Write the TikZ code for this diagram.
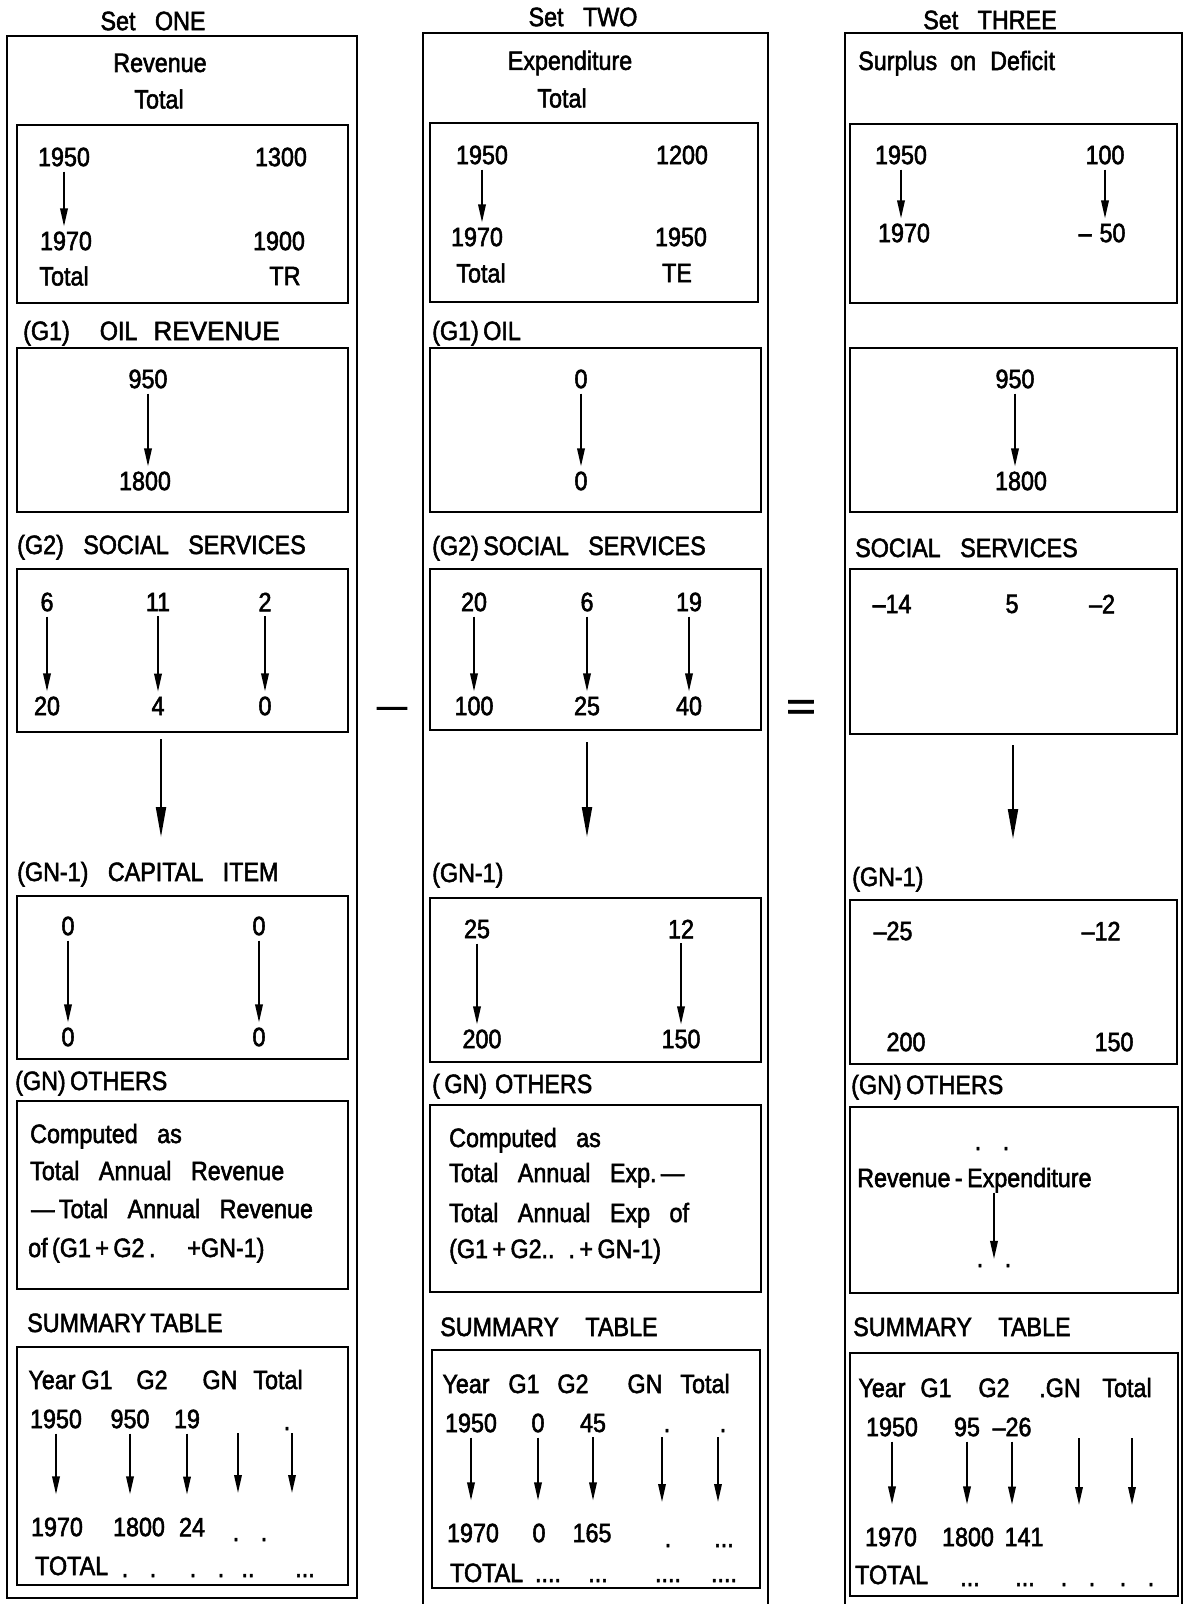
\documentclass[tikz,border=0pt]{standalone}
\usepackage{fontspec}
\setmainfont{Liberation Sans}[FakeStretch=0.88,FakeBold=2,WordSpace=3]
\usetikzlibrary{arrows.meta}

\begin{document}
\begin{tikzpicture}[x=1pt,y=-1pt,font=\fontsize{26.5}{30}\selectfont,
  frame/.style={line width=2.2pt},
  box/.style={line width=2.6pt},
  num/.style={inner sep=5pt},
  lbl/.style={anchor=base west,inner sep=0pt},
  txt/.style={anchor=base,inner sep=0pt},
  arr/.style={line width=1.8pt,-{Triangle[length=18pt,width=7.5pt]}},
  sarr/.style={arr,shorten >=18pt},
  bigarr/.style={line width=2pt,-{Triangle[length=30pt,width=10pt]}}]
\path[use as bounding box] (0,0) rectangle (1186,1604);

% Set ONE : revenue
\draw[frame] (7,36) rectangle (357,1598);
\node (oT) at (153,21) {Set ONE};
\node (oR) at (160,63) {Revenue};
\node (oRt) at (159,99) {Total};
\draw[box] (17,125) rectangle (348,303);
\node[num] (oA1) at (64,157) {1950};
\node[num] (oA2) at (66,241) {1970};
\node[num] (oA3) at (281,157) {1300};
\node[num] (oA4) at (279,241) {1900};
\node[num] (oA5) at (64,276) {Total};
\node[num] (oA6) at (285,276) {TR};
\draw[arr] (oA1.south) -- (oA1.south |- oA2.north);
\node[lbl] (oG1) at (23,340) {(G1)\hspace{30pt}OIL\hspace{16pt}\scalebox{1.12}[1]{REVENUE}};
\draw[box] (17,348) rectangle (348,512);
\node[num] (oB1) at (148,379) {950};
\node[num] (oB2) at (145,481) {1800};
\draw[arr] (oB1.south) -- (oB1.south |- oB2.north);
\node[lbl] (oG2) at (17,554) {(G2) SOCIAL SERVICES};
\draw[box] (17,569) rectangle (348,732);
\foreach \a/\b/\x/\i in {6/20/47/1,11/4/158/2,2/0/265/3} {
  \node[num] (oC\i) at (\x,602) {\a};
  \node[num] (oD\i) at (\x,706) {\b};
  \draw[arr] (oC\i) -- (oD\i);
}
\coordinate (oE1) at (161,739); \coordinate (oE2) at (161,837);
\draw[bigarr] (oE1) -- (oE2);
\node[lbl] (oG3) at (17,881) {(GN-1) CAPITAL ITEM};
\draw[box] (17,896) rectangle (348,1059);
\foreach \x/\i in {68/1,259/2} {
  \node[num] (oF\i) at (\x,926) {0};
  \node[num] (oH\i) at (\x,1037) {0};
  \draw[arr] (oF\i) -- (oH\i);
}
\node[lbl] (oG4) at (15,1090) {(GN)\,OTHERS};
\draw[box] (17,1101) rectangle (348,1289);
\node[lbl] (oK1) at (30,1143) {Computed as};
\node[lbl] (oK2) at (30,1180) {Total Annual Revenue};
\node[lbl] (oK3) at (31,1218) {—\,Total Annual Revenue};
\node[lbl] (oK4) at (28,1257) {of\,(G1\,+\,G2\,.\hspace{32pt}+GN-1)};
\node[lbl] (oG5) at (27,1332) {SUMMARY\,TABLE};
\draw[box] (17,1347) rectangle (348,1585);
\foreach \t/\x/\i in {Year/52/1,G1/97/2,G2/152/3,GN/220/4,Total/278/5}
  \node[txt] (oL\i) at (\x,1389) {\t};
\foreach \a/\b/\x/\y/\i in {1950/1970/56/57/1,950/1800/130/139/2,19/24/187/192/3} {
  \node[num] (oM\i) at (\x,1419) {\a};
  \node[num] (oN\i) at (\y,1527) {\b};
  \draw[sarr] (oM\i) -- (oM\i |- oN\i.north);
}
\foreach \x/\i in {238/4,292/5} {
  \coordinate (oP\i) at (\x,1433); \coordinate (oQ\i) at (\x,1493);
  \draw[arr] (oP\i) -- (oQ\i);
}
\node[txt] (oM5) at (287,1430) {.};
\node[txt] (oN4) at (250,1541) {. .};
\node[lbl] (oS) at (35,1575) {TOTAL};
\foreach \t/\x/\i in {{. .}/139/1,{. .}/207/2,{..}/248/3,{...}/305/4}
  \node[txt] (oU\i) at (\x,1577) {\t};

% minus
\node[txt,font=\fontsize{34}{34}\selectfont] (mi) at (392,717) {—};

% Set TWO : expenditure
\draw[frame] (423,1604) -- (423,33) -- (768,33) -- (768,1604);
\node (tT) at (583,17) {Set TWO};
\node (tR) at (570,63) {Expenditure};
\node (tRt) at (562,98) {Total};
\draw[box] (430,123) rectangle (758,302);
\node[num] (tA1) at (482,155) {1950};
\node[num] (tA2) at (477,237) {1970};
\node[num] (tA3) at (682,155) {1200};
\node[num] (tA4) at (681,237) {1950};
\node[num] (tA5) at (481,273) {Total};
\node[num] (tA6) at (677,273) {TE};
\draw[arr] (tA1.south) -- (tA1.south |- tA2.north);
\node[lbl] (tG1) at (432,340) {(G1)\,OIL};
\draw[box] (430,348) rectangle (761,512);
\node[num] (tB1) at (581,379) {0};
\node[num] (tB2) at (581,481) {0};
\draw[arr] (tB1) -- (tB2);
\node[lbl] (tG2) at (432,555) {(G2)\,SOCIAL SERVICES};
\draw[box] (430,569) rectangle (761,730);
\foreach \a/\b/\x/\i in {20/100/474/1,6/25/587/2,19/40/689/3} {
  \node[num] (tC\i) at (\x,602) {\a};
  \node[num] (tD\i) at (\x,706) {\b};
  \draw[arr] (tC\i) -- (tD\i);
}
\coordinate (tE1) at (587,742); \coordinate (tE2) at (587,837);
\draw[bigarr] (tE1) -- (tE2);
\node[lbl] (tG3) at (432,882) {(GN-1)};
\draw[box] (430,898) rectangle (761,1062);
\foreach \a/\b/\x/\y/\i in {25/200/477/482/1,12/150/681/681/2} {
  \node[num] (tF\i) at (\x,929) {\a};
  \node[num] (tH\i) at (\y,1039) {\b};
  \draw[arr] (tF\i) -- (tF\i |- tH\i.north);
}
\node[lbl] (tG4) at (432,1093) {(\,GN)\hspace{8pt}OTHERS};
\draw[box] (430,1105) rectangle (761,1292);
\node[lbl] (tK1) at (449,1147) {Computed as};
\node[lbl] (tK2) at (449,1182) {Total Annual Exp.\,—};
\node[lbl] (tK3) at (449,1222) {Total Annual Exp of};
\node[lbl] (tK4) at (449,1258) {(G1\,+\,G2..\hspace{14pt}.\,+\,GN-1)};
\node[lbl] (tG5) at (440,1336) {SUMMARY\quad TABLE};
\draw[box] (432,1350) rectangle (760,1588);
\foreach \t/\x/\i in {Year/466/1,G1/524/2,G2/573/3,GN/645/4,Total/705/5}
  \node[txt] (tL\i) at (\x,1393) {\t};
\foreach \a/\b/\x/\y/\i in {1950/1970/471/473/1,0/0/538/539/2,45/165/593/592/3} {
  \node[num] (tM\i) at (\x,1423) {\a};
  \node[num] (tN\i) at (\y,1533) {\b};
  \draw[sarr] (tM\i) -- (tM\i |- tN\i.north);
}
\foreach \x/\i in {662/4,718/5} {
  \coordinate (tP\i) at (\x,1437); \coordinate (tQ\i) at (\x,1502);
  \draw[arr] (tP\i) -- (tQ\i);
}
\node[txt] (tM4) at (667,1432) {.};
\node[txt] (tM5) at (723,1432) {.};
\node[txt] (tN4) at (668,1547) {.};
\node[txt] (tN5) at (724,1547) {...};
\node[lbl] (tS) at (450,1582) {TOTAL};
\foreach \t/\x/\i in {{....}/548/1,{...}/598/2,{....}/668/3,{....}/724/4}
  \node[txt] (tU\i) at (\x,1582) {\t};

% equals
\node[txt,font=\fontsize{40}{40}\selectfont] (eq) at (801,720) {\scalebox{1.45}[1]{=}};

% Set THREE : surplus or deficit
\draw[frame] (845,1604) -- (845,33) -- (1182,33) -- (1182,1604);
\node (hT) at (990,20) {Set THREE};
\node[lbl] (hR) at (858,70) {Surplus\hspace{13pt}on\hspace{14pt}Deficit};
\draw[box] (850,124) rectangle (1177,303);
\node[num] (hA1) at (901,155) {1950};
\node[num] (hA2) at (904,233) {1970};
\node[num] (hA3) at (1105,155) {100};
\node[num] (hA4) at (1102,233) {–\hspace{8pt}50};
\draw[arr] (hA1.south) -- (hA1.south |- hA2.north);
\draw[arr] (hA3.south) -- (hA3.south |- hA4.north);
\draw[box] (850,348) rectangle (1177,512);
\node[num] (hB1) at (1015,379) {950};
\node[num] (hB2) at (1021,481) {1800};
\draw[arr] (hB1.south) -- (hB1.south |- hB2.north);
\node[lbl] (hG2) at (855,557) {SOCIAL SERVICES};
\draw[box] (850,569) rectangle (1177,734);
\node[num] (hC1) at (892,604) {–14};
\node[num] (hC2) at (1012,604) {5};
\node[num] (hC3) at (1102,604) {–2};
\coordinate (hE1) at (1013,745); \coordinate (hE2) at (1013,839);
\draw[bigarr] (hE1) -- (hE2);
\node[lbl] (hG3) at (852,886) {(GN-1)};
\draw[box] (850,900) rectangle (1177,1064);
\node[num] (hF1) at (893,931) {–25};
\node[num] (hF2) at (1101,931) {–12};
\node[num] (hH1) at (906,1042) {200};
\node[num] (hH2) at (1114,1042) {150};
\node[lbl] (hG4) at (851,1094) {(GN)\,OTHERS};
\draw[box] (850,1107) rectangle (1178,1293);
\node[txt] (hK1) at (992,1150) {. .};
\node[lbl] (hK2) at (857,1187) {Revenue\,-\,Expenditure};
\node[txt] (hK3) at (994,1267) {. .};
\draw[arr,shorten >=5pt] (hK2.south -| hK3) -- (hK3);
\node[lbl] (hG5) at (853,1336) {SUMMARY\quad TABLE};
\draw[box] (850,1353) rectangle (1178,1596);
\foreach \t/\x/\i in {Year/882/1,G1/936/2,G2/994/3,.GN/1060/4,Total/1127/5}
  \node[txt] (hL\i) at (\x,1397) {\t};
\foreach \a/\b/\x/\y/\i in {1950/1970/892/891/1,95/1800/967/968/2,–26/141/1012/1024/3} {
  \node[num] (hM\i) at (\x,1427) {\a};
  \node[num] (hN\i) at (\y,1537) {\b};
  \draw[sarr] (hM\i) -- (hM\i |- hN\i.north);
}
\foreach \x/\i in {1079/4,1132/5} {
  \coordinate (hP\i) at (\x,1438); \coordinate (hQ\i) at (\x,1505);
  \draw[arr] (hP\i) -- (hQ\i);
}
\node[lbl] (hS) at (855,1584) {TOTAL};
\foreach \t/\x/\i in {{...}/970/1,{...}/1025/2,{. .}/1078/3,{. .}/1137/4}
  \node[txt] (hU\i) at (\x,1586) {\t};
\end{tikzpicture}
\end{document}
